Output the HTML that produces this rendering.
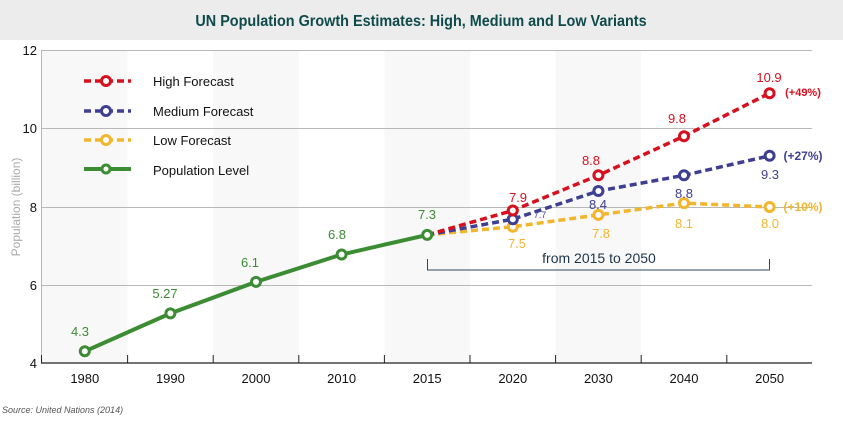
<!DOCTYPE html>
<html><head><style>
body{margin:0;background:#fff;}
svg{display:block;font-family:"Liberation Sans",Arial,sans-serif;}
</style></head><body>
<svg width="843" height="423" viewBox="0 0 843 423" xmlns="http://www.w3.org/2000/svg">
<rect x="0" y="0" width="843" height="40" fill="#ececec"/>
<text x="421" y="26" text-anchor="middle" font-size="16" font-weight="bold" fill="#0f4a4a" transform="translate(421 0) scale(0.9 1) translate(-421 0)">UN Population Growth Estimates: High, Medium and Low Variants</text>
<g fill="#f8f8f8">
<rect x="42" y="50" width="85.6" height="313"/>
<rect x="213.2" y="50" width="85.6" height="313"/>
<rect x="384.4" y="50" width="85.6" height="313"/>
<rect x="555.6" y="50" width="85.6" height="313"/>
</g>
<g stroke="#b8b8b8" stroke-width="1">
<line x1="42" y1="50.5" x2="812" y2="50.5"/>
<line x1="42" y1="128.5" x2="812" y2="128.5"/>
<line x1="42" y1="207.5" x2="812" y2="207.5"/>
<line x1="42" y1="285.5" x2="812" y2="285.5"/>
<line x1="41.5" y1="50" x2="41.5" y2="363"/>
</g>
<line x1="41" y1="363" x2="812" y2="363" stroke="#222" stroke-width="1.2"/>
<g stroke="#222" stroke-width="1">
<line x1="41.5" y1="355" x2="41.5" y2="363"/>
<line x1="127.6" y1="355" x2="127.6" y2="363"/>
<line x1="213.2" y1="355" x2="213.2" y2="363"/>
<line x1="298.8" y1="355" x2="298.8" y2="363"/>
<line x1="384.4" y1="355" x2="384.4" y2="363"/>
<line x1="470" y1="355" x2="470" y2="363"/>
<line x1="555.6" y1="355" x2="555.6" y2="363"/>
<line x1="641.2" y1="355" x2="641.2" y2="363"/>
<line x1="726.8" y1="355" x2="726.8" y2="363"/>
</g>
<g font-size="13" fill="#111" text-anchor="end">
<text x="37" y="55">12</text><text x="37" y="133">10</text><text x="37" y="212">8</text><text x="37" y="290">6</text><text x="37" y="368">4</text>
</g>
<text transform="translate(20 207) rotate(-90)" text-anchor="middle" font-size="12" fill="#aaa">Population (billion)</text>
<g font-size="13" fill="#111" text-anchor="middle">
<text x="84.8" y="383">1980</text><text x="170.4" y="383">1990</text><text x="256" y="383">2000</text><text x="341.6" y="383">2010</text><text x="427.2" y="383">2015</text><text x="512.8" y="383">2020</text><text x="598.4" y="383">2030</text><text x="684" y="383">2040</text><text x="769.6" y="383">2050</text>
</g>
<text x="2" y="413" font-size="9" font-style="italic" fill="#555">Source: United Nations (2014)</text>
<path d="M427.5 259 V270 H769.5 V259" fill="none" stroke="#2c4a60" stroke-width="1"/>
<text x="599" y="263" text-anchor="middle" font-size="14" fill="#1b3548">from 2015 to 2050</text>
<g fill="none" stroke-width="3.5" stroke-dasharray="7 4">
<polyline points="427.2,234.9 512.8,226.7 598.4,214.9 684,203.1 769.6,207" stroke="#f2b52c"/>
<polyline points="427.2,234.9 512.8,219.2 598.4,191 684,175.3 769.6,155.8" stroke="#3f3f92"/>
<polyline points="427.2,234.9 512.8,210.5 598.4,175.3 684,136.2 769.6,93.2" stroke="#d7101e"/>
</g>
<polyline points="84.8,351.3 170.4,313.4 256,281.9 341.6,254.5 427.2,234.9" fill="none" stroke="#3c8c33" stroke-width="4"/>
<g fill="#fff" stroke-width="3">
<g stroke="#3c8c33"><circle cx="84.8" cy="351.3" r="4.5"/><circle cx="170.4" cy="313.4" r="4.5"/><circle cx="256" cy="281.9" r="4.5"/><circle cx="341.6" cy="254.5" r="4.5"/><circle cx="427.2" cy="234.9" r="4.5"/></g>
<g stroke="#f2b52c"><circle cx="512.8" cy="226.7" r="4.5"/><circle cx="598.4" cy="214.9" r="4.5"/><circle cx="684" cy="203.1" r="4.5"/><circle cx="769.6" cy="207" r="4.5"/></g>
<g stroke="#3f3f92"><circle cx="512.8" cy="219.2" r="4.5"/><circle cx="598.4" cy="191" r="4.5"/><circle cx="684" cy="175.3" r="4.5"/><circle cx="769.6" cy="155.8" r="4.5"/></g>
<g stroke="#d7101e"><circle cx="512.8" cy="210.5" r="4.5"/><circle cx="598.4" cy="175.3" r="4.5"/><circle cx="684" cy="136.2" r="4.5"/><circle cx="769.6" cy="93.2" r="4.5"/></g>
</g>
<g font-size="13" text-anchor="middle">
<g fill="#3c8c33"><text x="80" y="336">4.3</text><text x="165" y="298">5.27</text><text x="250" y="267">6.1</text><text x="337" y="239">6.8</text><text x="427" y="219">7.3</text></g>
<g fill="#f2b52c"><text x="517" y="248">7.5</text><text x="601" y="238">7.8</text><text x="684" y="228">8.1</text><text x="770" y="228">8.0</text><text x="803" y="211" font-weight="bold" font-size="12">(+10%)</text></g>
<g fill="#3f3f92"><text x="540" y="218" font-size="9">7.7</text><text x="598" y="209">8.4</text><text x="684" y="198">8.8</text><text x="770" y="179">9.3</text><text x="803" y="160" font-weight="bold" font-size="12">(+27%)</text></g>
<g fill="#d7101e"><text x="518" y="202">7.9</text><text x="591" y="165">8.8</text><text x="677" y="123">9.8</text><text x="769" y="82">10.9</text><text x="803" y="96" font-weight="bold" font-size="11">(+49%)</text></g>
</g>
<g stroke-width="3.5" stroke-dasharray="7 4" fill="none">
<line x1="84" y1="81" x2="131" y2="81" stroke="#d7101e"/>
<line x1="84" y1="111" x2="131" y2="111" stroke="#3f3f92"/>
<line x1="84" y1="140" x2="131" y2="140" stroke="#f2b52c"/>
</g>
<line x1="84" y1="169" x2="131" y2="169" stroke="#3c8c33" stroke-width="4"/>
<g fill="#fff" stroke-width="3">
<circle cx="106" cy="81" r="4.5" stroke="#d7101e"/>
<circle cx="106" cy="111" r="4.5" stroke="#3f3f92"/>
<circle cx="106" cy="140" r="4.5" stroke="#f2b52c"/>
<circle cx="106" cy="169" r="4" stroke="#3c8c33"/>
</g>
<g font-size="13" fill="#111">
<text x="153" y="86">High Forecast</text><text x="153" y="116">Medium Forecast</text><text x="153" y="145">Low Forecast</text><text x="153" y="175">Population Level</text>
</g>
</svg>
</body></html>
